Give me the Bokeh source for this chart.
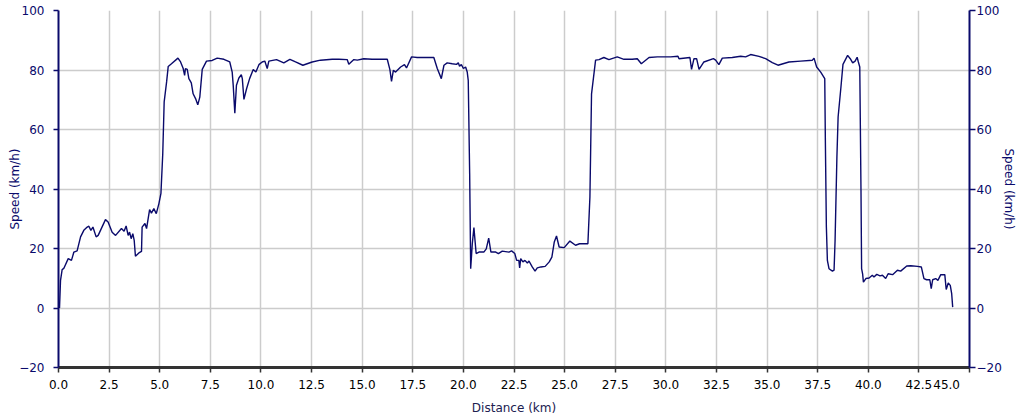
from bokeh.plotting import figure
from bokeh.models import Range1d, LinearAxis, FixedTicker
from bokeh.embed import file_html
from bokeh.resources import INLINE

distance_km = [
    0.05, 0.10, 0.18, 0.26, 0.48, 0.64, 0.76, 0.92, 1.09, 1.25, 1.42, 1.50, 1.60, 1.70, 1.86, 1.96,
    2.32, 2.45, 2.65, 2.82, 3.11, 3.24, 3.34, 3.44, 3.51, 3.59, 3.67, 3.74, 3.80, 3.97, 4.10, 4.13,
    4.27, 4.35, 4.50, 4.59, 4.71, 4.83, 4.96, 5.06, 5.15, 5.22, 5.34, 5.42, 5.58,
    5.90, 6.03, 6.16, 6.23, 6.27, 6.36, 6.44, 6.56, 6.65, 6.77, 6.88, 6.98, 7.10, 7.31, 7.59, 7.84,
    8.17, 8.46, 8.58, 8.63, 8.71, 8.79, 8.91, 9.03, 9.08, 9.16, 9.29, 9.44, 9.62, 9.75, 9.90, 10.06,
    10.19, 10.31, 10.39, 10.77, 11.13, 11.43, 11.71,
    12.07, 12.53, 12.94, 13.52, 13.85, 14.26, 14.34, 14.59, 14.76, 15.08, 15.49,
    16.24, 16.37, 16.45, 16.54, 16.65, 16.90, 17.09, 17.19, 17.44, 17.72, 18.54, 18.71, 18.91, 19.04,
    19.20, 19.45, 19.66, 19.75, 19.81, 19.90, 20.00, 20.11, 20.19, 20.24,
    20.31, 20.36, 20.44, 20.52, 20.63, 20.77, 21.01, 21.13, 21.25, 21.36, 21.60, 21.73, 21.92, 22.25,
    22.38, 22.54, 22.63, 22.74, 22.78, 22.83, 22.94, 23.04, 23.16, 23.24, 23.40, 23.54, 23.65, 23.83,
    24.04, 24.24, 24.37, 24.49, 24.60, 24.73, 24.98, 25.26, 25.54, 25.74, 26.15, 26.25, 26.33, 26.53,
    26.70, 26.94, 27.19, 27.60, 27.93, 28.34, 28.59, 28.79, 29.17, 29.58, 30.24, 30.60, 30.65, 31.19,
    31.27, 31.39, 31.52, 31.64, 31.88,
    32.35, 32.46, 32.62, 32.79, 33.28, 33.70, 33.94, 34.19, 34.60, 34.93, 35.26, 35.54, 36.08, 36.66,
    37.24, 37.32, 37.45,
    37.65, 37.85, 37.88, 37.93, 37.98, 38.06, 38.23, 38.31, 38.36, 38.45, 38.51, 38.65, 38.75, 38.98,
    39.11, 39.23, 39.35, 39.45, 39.51, 39.58, 39.64, 39.67, 39.72, 39.76, 39.88, 40.04, 40.20, 40.28,
    40.42, 40.58, 40.70, 40.86, 40.98, 41.20, 41.44, 41.60, 41.90, 42.10, 42.43, 42.62, 42.75, 42.88,
    43.04, 43.11, 43.18, 43.33, 43.44, 43.58, 43.78, 43.85, 43.95, 44.05, 44.12, 44.17,
]

speed_kmh = [
    0.0, 9.3, 12.9, 13.3, 16.6, 16.0, 18.8, 19.2, 23.9, 26.1, 27.2, 27.5, 26.1, 27.2, 23.9, 24.4,
    29.7, 28.9, 25.5, 24.4, 26.7, 25.8, 27.6, 24.4, 25.5, 23.3, 25.0, 22.7, 17.4, 18.5, 19.0, 27.2,
    28.4, 26.7, 33.1, 31.9, 33.4, 31.7, 35.1, 38.5, 51.9, 69.3, 76.0, 81.2, 82.1,
    84.0, 82.7, 80.5, 78.2, 80.5, 80.2, 77.1, 75.7, 72.0, 70.4, 68.3, 70.9, 80.2, 83.0, 83.2, 84.0,
    83.6, 82.7, 79.3, 74.9, 65.5, 74.9, 77.3, 78.4, 77.1, 70.1, 73.7, 77.1, 80.2, 79.3, 81.8, 82.7,
    83.0, 80.5, 83.0, 83.5, 82.4, 83.6, 82.7,
    81.6, 82.7, 83.3, 83.6, 83.6, 83.5, 81.9, 83.5, 83.3, 83.8, 83.6,
    83.6, 80.1, 76.2, 79.9, 79.3, 81.0, 81.8, 80.7, 84.4, 84.2, 84.2, 80.5, 77.1, 81.6,
    82.4, 82.1, 81.9, 82.4, 81.3, 81.8, 80.5, 81.0, 79.3, 76.5,
    45.2, 13.2, 21.6, 27.0, 18.3, 18.8, 18.8, 19.9, 23.5, 18.8, 18.8, 18.3, 19.1, 18.8,
    19.2, 18.3, 16.0, 16.0, 13.5, 16.6, 15.5, 16.0, 15.1, 15.8, 13.8, 12.4, 13.5, 13.8,
    14.0, 15.5, 17.1, 22.2, 24.2, 20.5, 20.3, 22.5, 21.1, 21.6, 21.6, 37.3, 72.0, 83.3,
    83.5, 84.2, 83.5, 84.4, 83.6, 83.6, 83.8, 82.1, 84.2, 84.4, 84.4, 84.6, 83.8, 84.2,
    80.2, 83.8, 83.8, 80.2, 82.7,
    83.8, 83.3, 81.8, 84.0, 84.2, 84.6, 84.4, 85.2, 84.6, 83.8, 82.5, 81.6, 82.7, 83.0,
    83.3, 84.0, 81.0,
    79.3, 77.1, 56.4, 27.2, 16.0, 13.2, 12.4, 12.7, 22.7, 50.7, 64.2, 74.3, 81.9, 84.9,
    83.8, 82.4, 83.0, 84.3, 82.7, 81.0, 39.6, 13.2, 11.5, 8.7, 9.9, 10.1, 11.0, 10.4,
    11.3, 10.8, 11.0, 9.9, 11.5, 11.2, 12.7, 12.4, 14.1, 14.2, 14.0, 13.8, 9.9, 9.5,
    9.5, 6.5, 9.5, 9.9, 9.3, 11.2, 11.2, 6.2, 8.4, 7.6, 4.8, 0.3,
]

x_ticks = [0.0, 2.5, 5.0, 7.5, 10.0, 12.5, 15.0, 17.5, 20.0, 22.5, 25.0, 27.5,
           30.0, 32.5, 35.0, 37.5, 40.0, 42.5, 45.0]
x_tick_labels = ["%.1f" % t for t in x_ticks]
y_ticks = [-20, 0, 20, 40, 60, 80, 100]
x_label = "Distance (km)"
y_label = "Speed (km/h)"

NAVY = "#0a0a6b"
FONT = "DejaVu Sans"
TICK_SIZE = "12px"

p = figure(frame_width=911, frame_height=357, output_backend="svg", toolbar_location=None,
           x_range=Range1d(0, 45), y_range=Range1d(-20, 100),
           min_border_left=58, min_border_right=0, min_border_top=10, min_border_bottom=0)
p.outline_line_color = None
p.background_fill_color = "white"
p.border_fill_color = "white"

p.line(distance_km, speed_kmh, line_color=NAVY, line_width=1.4)

# grids
p.xgrid.ticker = FixedTicker(ticks=x_ticks)
p.ygrid.ticker = FixedTicker(ticks=y_ticks)
for g in (p.xgrid[0], p.ygrid[0]):
    g.grid_line_color = "#cccccc"
    g.grid_line_width = 1.5

# bottom axis
xa = p.xaxis[0]
xa.ticker = FixedTicker(ticks=x_ticks)
overrides = {t: lab for t, lab in zip(x_ticks, x_tick_labels)}
# the last label is pushed left of its tick (as in the reference) with trailing no-break spaces
overrides[x_ticks[-1]] = x_tick_labels[-1] + "\u00a0" * 12
xa.major_label_overrides = overrides
xa.axis_label = x_label
xa.axis_line_color = "#333333"
xa.axis_line_width = 3
xa.major_tick_line_color = "#333333"
xa.major_tick_line_width = 1.5
xa.major_tick_out = 5
xa.major_tick_in = 0
xa.minor_tick_line_color = None
xa.major_label_standoff = 5
xa.major_label_text_font = FONT
xa.major_label_text_font_size = TICK_SIZE
xa.major_label_text_color = "#000000"
xa.axis_label_standoff = 6
xa.axis_label_text_font = FONT
xa.axis_label_text_font_size = TICK_SIZE
xa.axis_label_text_font_style = "normal"
xa.axis_label_text_color = "#202050"

# left axis
ya = p.yaxis[0]
ya.ticker = FixedTicker(ticks=y_ticks)
ya.axis_label = y_label
ya.axis_line_color = NAVY
ya.axis_line_width = 2
ya.major_tick_line_color = NAVY
ya.major_tick_line_width = 1.5
ya.major_tick_out = 5
ya.major_tick_in = 0
ya.minor_tick_line_color = None
ya.major_label_standoff = 9
ya.major_label_text_font = FONT
ya.major_label_text_font_size = TICK_SIZE
ya.major_label_text_color = NAVY
ya.axis_label_standoff = -6
ya.axis_label_text_font = FONT
ya.axis_label_text_font_size = TICK_SIZE
ya.axis_label_text_font_style = "normal"
ya.axis_label_text_color = NAVY

# right axis
ra = LinearAxis(ticker=FixedTicker(ticks=y_ticks), axis_label=y_label)
ra.axis_line_color = NAVY
ra.axis_line_width = 2
ra.major_tick_line_color = NAVY
ra.major_tick_line_width = 1.5
ra.major_tick_out = 6
ra.major_tick_in = 0
ra.minor_tick_line_color = None
ra.major_label_standoff = 1
ra.major_label_text_font = FONT
ra.major_label_text_font_size = TICK_SIZE
ra.major_label_text_color = NAVY
ra.axis_label_standoff = -3
ra.axis_label_text_font = FONT
ra.axis_label_text_font_size = TICK_SIZE
ra.axis_label_text_font_style = "normal"
ra.axis_label_text_color = NAVY
p.add_layout(ra, "right")

open("out.html", "w").write(file_html(p, INLINE))
